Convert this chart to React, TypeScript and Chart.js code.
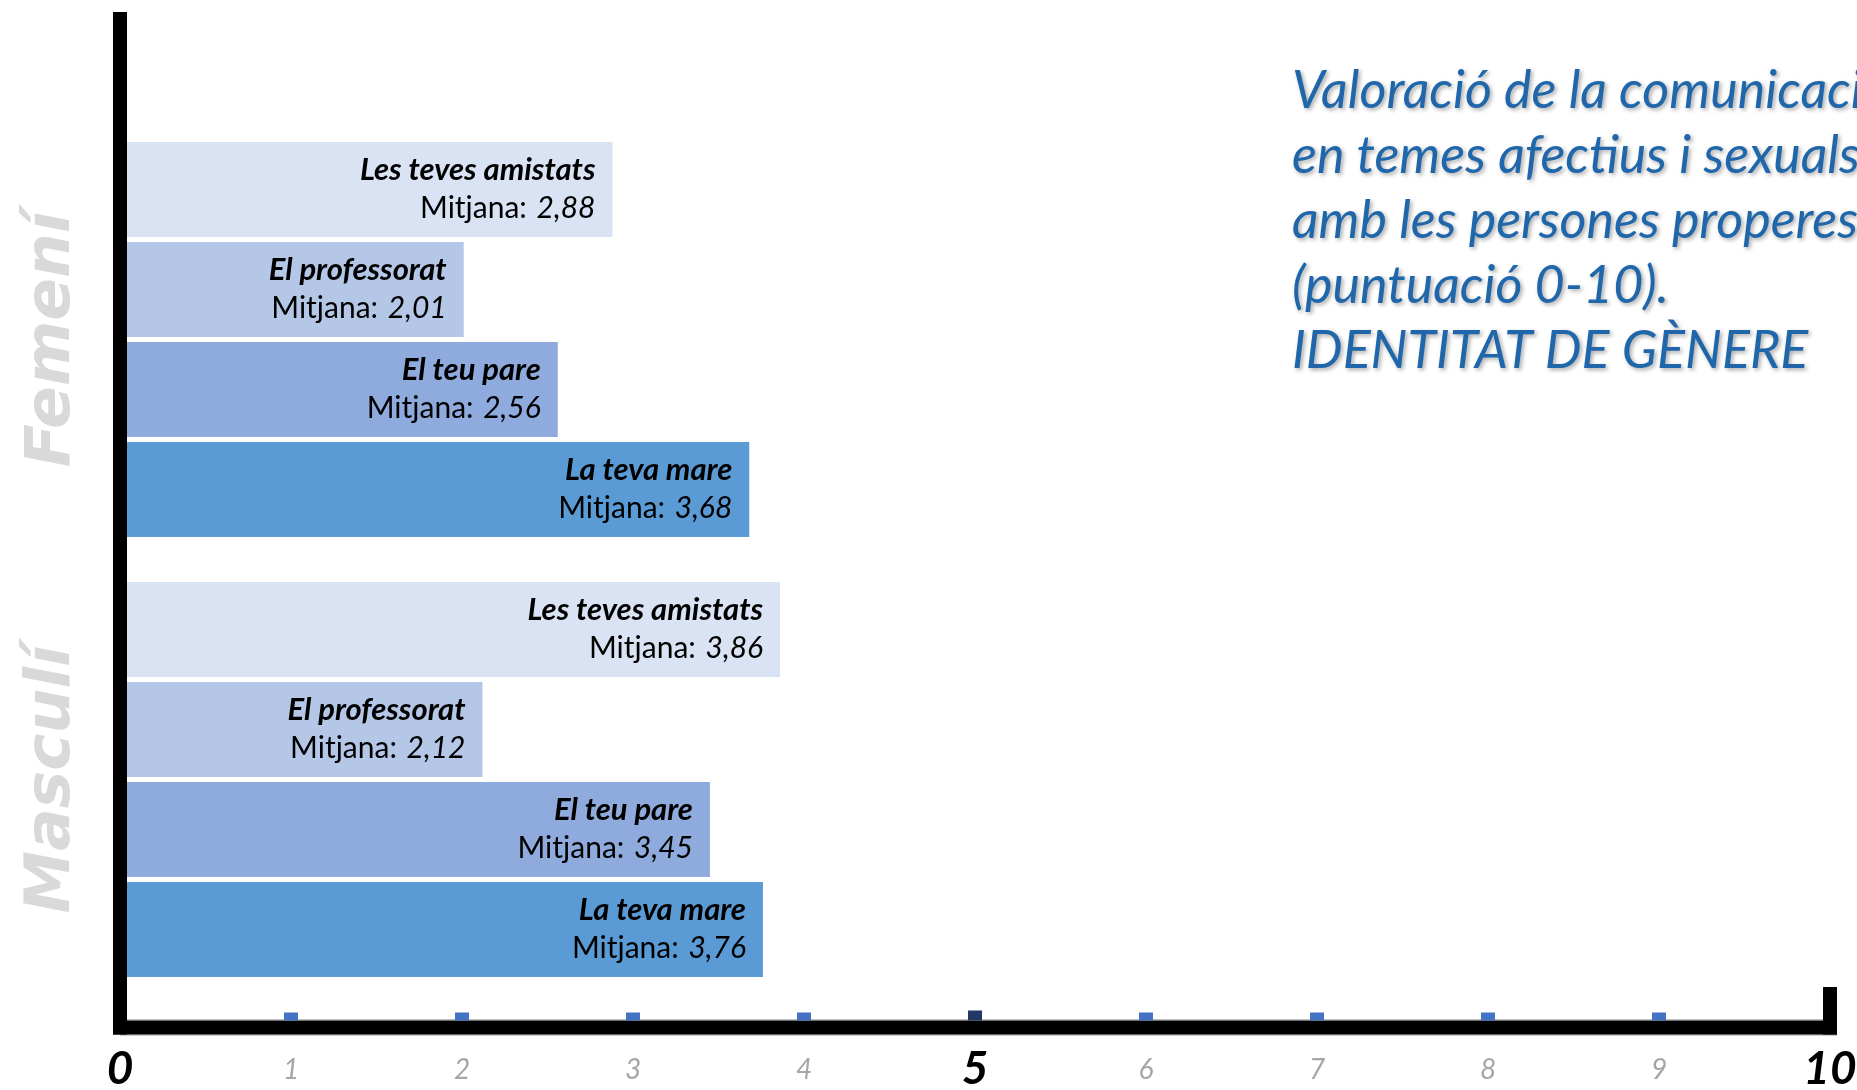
import React, { useEffect, useRef } from "react";
import { Chart, registerables } from "chart.js";

Chart.register(...registerables);

// ---------- data ----------
const groups = ["Femení", "Masculí"];
const categories = ["Les teves amistats", "El professorat", "El teu pare", "La teva mare"];
const femeniValues = [2.88, 2.01, 2.56, 3.68];
const masculiValues = [3.86, 2.12, 3.45, 3.76];
const groupValues = [femeniValues, masculiValues];
const valuePrefix = "Mitjana: ";
const xTickValues = [0, 1, 2, 3, 4, 5, 6, 7, 8, 9, 10];
const majorTicks = [0, 5, 10];
const titleLines = [
  "Valoració de la comunicació",
  "en temes afectius i sexuals",
  "amb les persones properes",
  "(puntuació 0-10).",
  "IDENTITAT DE GÈNERE",
];

// ---------- styles ----------
const W = 1857;
const H = 1090;
const FONT = 'Lato, "Open Sans", sans-serif';
const categoryColors = ["#DAE3F3", "#B4C7E7", "#8FAADC", "#5B9BD5"];
const GROUP_GAP = 0.4;
const NAME_SIZE = 31;
const VALUE_SIZE = 30;
const TITLE_SIZE = 52;
const AXIS_T = 14;

const fmt = (v: number) => v.toFixed(2).replace(".", ",");

const overlayPlugin = {
  id: "overlay",
  beforeDraw(chart: any) {
    const { ctx } = chart;
    ctx.save();
    ctx.fillStyle = "#ffffff";
    ctx.fillRect(0, 0, chart.width, chart.height);
    ctx.restore();
  },
  afterDatasetsDraw(chart: any) {
    const { ctx, chartArea, scales } = chart;
    const xs = scales.x;
    const ys = scales.y;

    // bar labels
    chart.data.datasets.forEach((_ds: any, di: number) => {
      const meta = chart.getDatasetMeta(di);
      const vals = groupValues[di];
      meta.data.forEach((bar: any, i: number) => {
        const right = bar.x - 17;
        const cy = bar.y;
        ctx.save();
        ctx.fillStyle = "#000";
        ctx.textBaseline = "middle";
        ctx.textAlign = "right";
        ctx.font = `italic bold ${NAME_SIZE}px ${FONT}`;
        ctx.fillText(categories[i], right, cy - 19);
        const vt = fmt(vals[i]);
        ctx.font = `italic ${VALUE_SIZE}px ${FONT}`;
        const wv = ctx.measureText(vt).width;
        ctx.fillText(vt, right, cy + 19);
        ctx.font = `${VALUE_SIZE}px ${FONT}`;
        ctx.fillText(valuePrefix, right - wv - 2, cy + 19);
        ctx.restore();
      });
    });

    // axis frame
    const x0 = xs.getPixelForValue(xTickValues[0]);
    const x10 = xs.getPixelForValue(xTickValues[xTickValues.length - 1]);
    const top = chartArea.top;
    const bottom = chartArea.bottom;
    ctx.save();
    ctx.fillStyle = "#bfbfbf";
    ctx.fillRect(x0, bottom - AXIS_T / 2 - 1.5, x10 - x0, 1.5);
    ctx.fillStyle = "#9a9a9a";
    ctx.fillRect(x0, bottom + AXIS_T / 2, x10 - x0 + AXIS_T / 2, 1);
    ctx.fillStyle = "#000";
    ctx.fillRect(x0 - AXIS_T / 2, top, AXIS_T, bottom + AXIS_T / 2 - top);
    ctx.fillRect(x0 - AXIS_T / 2, bottom - AXIS_T / 2, x10 - x0 + AXIS_T, AXIS_T);
    ctx.fillRect(x10 - AXIS_T / 2, bottom - 40.5, AXIS_T, 40.5 + AXIS_T / 2);
    // tick marks
    xTickValues.forEach((v) => {
      if (v === xTickValues[0] || v === xTickValues[xTickValues.length - 1]) return;
      const px = xs.getPixelForValue(v);
      const isMid = v === 5;
      const h = isMid ? 10 : 8;
      ctx.fillStyle = isMid ? "#1F3864" : "#4472C4";
      ctx.fillRect(px - 7, bottom - AXIS_T / 2 - h, 14, h);
    });
    ctx.restore();

    // group labels (rotated)
    groups.forEach((g, gi) => {
      const start = gi * (categories.length + GROUP_GAP);
      const cy = ys.getPixelForValue(start + (categories.length - 1) / 2);
      ctx.save();
      ctx.translate(69, cy);
      ctx.rotate(-Math.PI / 2);
      ctx.textAlign = "center";
      ctx.textBaseline = "alphabetic";
      ctx.font = `italic bold 63px "DejaVu Sans", Verdana, sans-serif`;
      ctx.fillStyle = "#D9D9D9";
      ctx.fillText(g, 0, 0);
      ctx.restore();
    });

    // title
    ctx.save();
    ctx.font = `italic ${TITLE_SIZE}px ${FONT}`;
    ctx.fillStyle = "#1F67AA";
    ctx.textAlign = "left";
    ctx.textBaseline = "alphabetic";
    ctx.shadowColor = "rgba(0,0,0,0.35)";
    ctx.shadowOffsetX = 2;
    ctx.shadowOffsetY = 2;
    ctx.shadowBlur = 4;
    titleLines.forEach((line, k) => {
      ctx.fillText(line, 1292, 108 + k * 65);
    });
    ctx.restore();
  },
};

export default function App() {
  const ref = useRef<HTMLCanvasElement>(null);
  useEffect(() => {
    const canvas = ref.current;
    if (!canvas) return;
    const chart = new Chart(canvas, {
      type: "bar",
      data: {
        datasets: groups.map((g, gi) => ({
          label: g,
          data: groupValues[gi].map((v, i) => ({
            x: v,
            y: gi * (categories.length + GROUP_GAP) + i,
          })),
          backgroundColor: categoryColors,
          borderWidth: 0,
          barPercentage: 0.95,
          categoryPercentage: 1,
          grouped: false,
        })),
      } as any,
      options: {
        indexAxis: "y",
        responsive: false,
        animation: false,
        events: [],
        layout: { padding: { left: 120, right: 27, top: 12, bottom: 0 } },
        scales: {
          x: {
            type: "linear",
            position: "bottom",
            min: 0,
            max: 10,
            grid: { display: false, drawTicks: false },
            border: { display: false },
            afterFit: (scale: any) => {
              scale.height = 62.5;
              scale.paddingLeft = 0;
              scale.paddingRight = 0;
            },
            afterBuildTicks: (scale: any) => {
              scale.ticks = xTickValues.map((v) => ({ value: v }));
            },
            ticks: {
              autoSkip: false,
              maxRotation: 0,
              minRotation: 0,
              padding: 14,
              callback: (v: any) => String(v),
              color: (c: any) => (majorTicks.includes(c.tick?.value) ? "#000000" : "#A6A6A6"),
              font: (c: any) => {
                const major = majorTicks.includes(c.tick?.value);
                return {
                  family: FONT,
                  size: major ? 46 : 28,
                  weight: major ? "bold" : "normal",
                  style: "italic",
                  lineHeight: "56px",
                } as any;
              },
            },
          },
          y: {
            type: "linear",
            reverse: true,
            offset: false,
            min: -1.774,
            max: 8.381,
            display: false,
            ticks: { stepSize: 1, includeBounds: false },
          },
        },
        plugins: {
          legend: { display: false },
          tooltip: { enabled: false },
        },
      } as any,
      plugins: [overlayPlugin],
    });
    return () => chart.destroy();
  }, []);
  return (
    <div style={{ position: "fixed", left: 0, top: 0, width: W, height: H, background: "#fff" }}>
      <canvas ref={ref} width={W} height={H} style={{ display: "block", width: W, height: H }} />
    </div>
  );
}
